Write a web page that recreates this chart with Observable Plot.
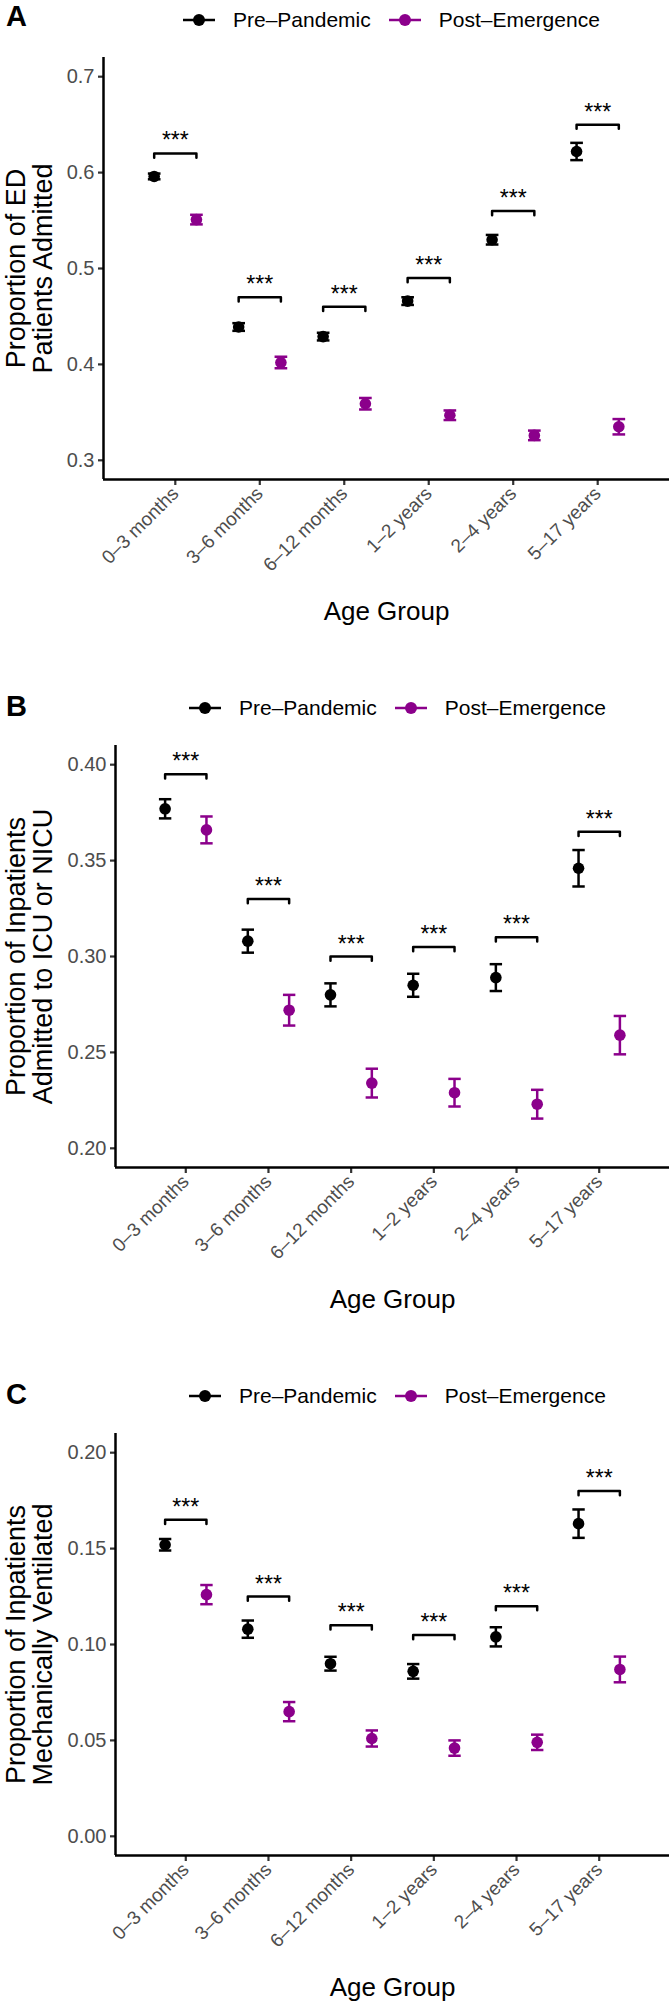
<!DOCTYPE html>
<html><head><meta charset="utf-8">
<script src="https://cdn.jsdelivr.net/npm/d3@7"></script>
<script src="https://cdn.jsdelivr.net/npm/@observablehq/plot@0.6"></script>
<style>
body{margin:0;background:#fff;font-family:"Liberation Sans",Arial,sans-serif;}
#root{position:relative;width:670px;height:2005px;overflow:hidden;background:#fff}
.panel-label{position:absolute;left:6px;font-weight:bold;font-size:29px;line-height:1;color:#000}
.legend{position:absolute;display:flex;align-items:center;font-size:21px;line-height:24px;color:#000;white-space:nowrap}
.legend svg{display:block}
.chart{position:absolute;left:0}
</style></head><body><div id="root"></div>
<script>
const ageGroups = ["0–3 months","3–6 months","6–12 months","1–2 years","2–4 years","5–17 years"];
const periods = ["Pre–Pandemic","Post–Emergence"];
const periodColors = ["#000000","#8B008B"];
const sigLabels = ["***","***","***","***","***","***"];

// Panel A: proportion of ED patients admitted
const admittedPre = [0.596,0.439,0.429,0.466,0.530,0.622];
const admittedPreErr = [0.003,0.004,0.004,0.004,0.005,0.009];
const admittedPost = [0.551,0.402,0.359,0.347,0.326,0.335];
const admittedPostErr = [0.005,0.006,0.006,0.005,0.005,0.008];
const admittedBracket = [0.62,0.47,0.46,0.49,0.56,0.65];
const admittedTicks = [0.3,0.4,0.5,0.6,0.7];
const admittedLimits = [0.3,0.7];

// Panel B: proportion of inpatients admitted to ICU or NICU
const icuPre = [0.377,0.308,0.280,0.285,0.289,0.346];
const icuPreErr = [0.005,0.006,0.006,0.006,0.007,0.0095];
const icuPost = [0.366,0.272,0.234,0.229,0.223,0.259];
const icuPostErr = [0.007,0.008,0.0075,0.0072,0.0075,0.010];
const icuBracket = [0.395,0.33,0.30,0.305,0.31,0.365];
const icuTicks = [0.20,0.25,0.30,0.35,0.40];
const icuLimits = [0.2,0.4];

// Panel C: proportion of inpatients mechanically ventilated
const ventPre = [0.152,0.108,0.090,0.086,0.104,0.163];
const ventPreErr = [0.003,0.0045,0.0036,0.0038,0.005,0.0074];
const ventPost = [0.126,0.065,0.051,0.046,0.049,0.087];
const ventPostErr = [0.005,0.005,0.0042,0.004,0.004,0.0067];
const ventBracket = [0.165,0.125,0.11,0.105,0.12,0.18];
const ventTicks = [0.00,0.05,0.10,0.15,0.20];
const ventLimits = [0,0.2];

const root = document.getElementById("root");

function legend(top, left) {
  const div = document.createElement("div");
  div.className = "legend";
  div.style.top = top + "px";
  div.style.left = left + "px";
  periods.forEach((p, k) => {
    const item = document.createElement("div");
    item.style.display = "flex";
    item.style.alignItems = "center";
    if (k > 0) item.style.marginLeft = "18px";
    item.innerHTML = `<svg width="32" height="24"><line x1="0" x2="32" y1="12" y2="12" stroke="${periodColors[k]}" stroke-width="2.5"/><circle cx="16" cy="12" r="6" fill="${periodColors[k]}"/></svg><span style="margin-left:18px">${p}</span>`;
    div.appendChild(item);
  });
  root.appendChild(div);
}

function panelLabel(text, top) {
  const d = document.createElement("div");
  d.className = "panel-label";
  d.style.top = top + "px";
  d.textContent = text;
  root.appendChild(d);
}

function panel({pre, preErr, post, postErr, bracket, ticks, limits, fmt, title, svgTop, marginLeft}) {
  const rows = [];
  ageGroups.forEach((g, i) => {
    rows.push({i, g, period: periods[0], off: -0.25, v: pre[i], e: preErr[i]});
    rows.push({i, g, period: periods[1], off: 0.25, v: post[i], e: postErr[i]});
  });
  const span = limits[1] - limits[0];
  const pad = span * 0.05;
  const yDomain = [limits[0] - pad, limits[1] + pad];
  const xDomain = [-0.85, ageGroups.length - 1 + 0.85];
  const tip = span * 0.011;
  const cap = 0.075;
  const brackets = ageGroups.flatMap((g, i) => [
    {i, x: i - 0.25, y: bracket[i] - tip},
    {i, x: i - 0.25, y: bracket[i]},
    {i, x: i + 0.25, y: bracket[i]},
    {i, x: i + 0.25, y: bracket[i] - tip}
  ]);
  const px = d => d.i + d.off;
  const chart = Plot.plot({
    width: 670, height: 592, marginTop: 20, marginBottom: 150, marginLeft, marginRight: 1,
    style: {fontFamily: "Liberation Sans, Arial, sans-serif", color: "#4d4d4d", background: "white", overflow: "visible"},
    x: {domain: xDomain, axis: null},
    y: {domain: yDomain, axis: null},
    color: {domain: periods, range: periodColors},
    marks: [
      Plot.axisY({ticks, tickFormat: fmt, tickSize: 5, tickPadding: 4, fontSize: 20, label: null, stroke: "#333", strokeWidth: 2.2}),
      Plot.axisX({ticks: d3.range(ageGroups.length), tickFormat: i => ageGroups[i], tickRotate: -45, tickSize: 6, tickPadding: 5, fontSize: 19, label: null, stroke: "#333", strokeWidth: 2.2}),
      Plot.ruleX([xDomain[0]], {stroke: "black", strokeWidth: 2.5}),
      Plot.ruleY([yDomain[0]], {stroke: "black", strokeWidth: 2.5}),
      Plot.link(rows, {x1: px, x2: px, y1: d => d.v - d.e, y2: d => d.v + d.e, stroke: "period", strokeWidth: 2.5}),
      Plot.link(rows, {x1: d => px(d) - cap, x2: d => px(d) + cap, y1: d => d.v - d.e, y2: d => d.v - d.e, stroke: "period", strokeWidth: 2.5}),
      Plot.link(rows, {x1: d => px(d) - cap, x2: d => px(d) + cap, y1: d => d.v + d.e, y2: d => d.v + d.e, stroke: "period", strokeWidth: 2.5}),
      Plot.dot(rows, {x: px, y: "v", fill: "period", r: 5.8}),
      Plot.line(brackets, {x: "x", y: "y", z: "i", stroke: "black", strokeWidth: 2.5}),
      Plot.text(sigLabels, {x: (d, i) => i, y: (d, i) => bracket[i], text: d => d, fontSize: 23, fill: "black", lineAnchor: "bottom", dy: -5}),
      Plot.text([title], {frameAnchor: "left", text: d => d, rotate: -90, textAnchor: "middle", lineAnchor: "middle", dx: 29.5 - marginLeft, fontSize: 27, fill: "black", lineHeight: 1.0}),
      Plot.text(["Age Group"], {frameAnchor: "bottom", text: d => d, dy: 140, lineAnchor: "bottom", fontSize: 26, fill: "black"})
    ]
  });
  chart.classList.add("chart");
  chart.style.top = svgTop + "px";
  root.appendChild(chart);
}

panelLabel("A", 2);
legend(8, 183);
panel({pre: admittedPre, preErr: admittedPreErr, post: admittedPost, postErr: admittedPostErr,
  bracket: admittedBracket, ticks: admittedTicks, limits: admittedLimits, fmt: d3.format(".1f"),
  title: "Proportion of ED\nPatients Admitted", svgTop: 36.6, marginLeft: 103});

panelLabel("B", 692);
legend(696, 189);
panel({pre: icuPre, preErr: icuPreErr, post: icuPost, postErr: icuPostErr,
  bracket: icuBracket, ticks: icuTicks, limits: icuLimits, fmt: d3.format(".2f"),
  title: "Proportion of Inpatients\nAdmitted to ICU or NICU", svgTop: 725, marginLeft: 115});

panelLabel("C", 1380);
legend(1384, 189);
panel({pre: ventPre, preErr: ventPreErr, post: ventPost, postErr: ventPostErr,
  bracket: ventBracket, ticks: ventTicks, limits: ventLimits, fmt: d3.format(".2f"),
  title: "Proportion of Inpatients\nMechanically Ventilated", svgTop: 1412.7, marginLeft: 115});
</script></body></html>
